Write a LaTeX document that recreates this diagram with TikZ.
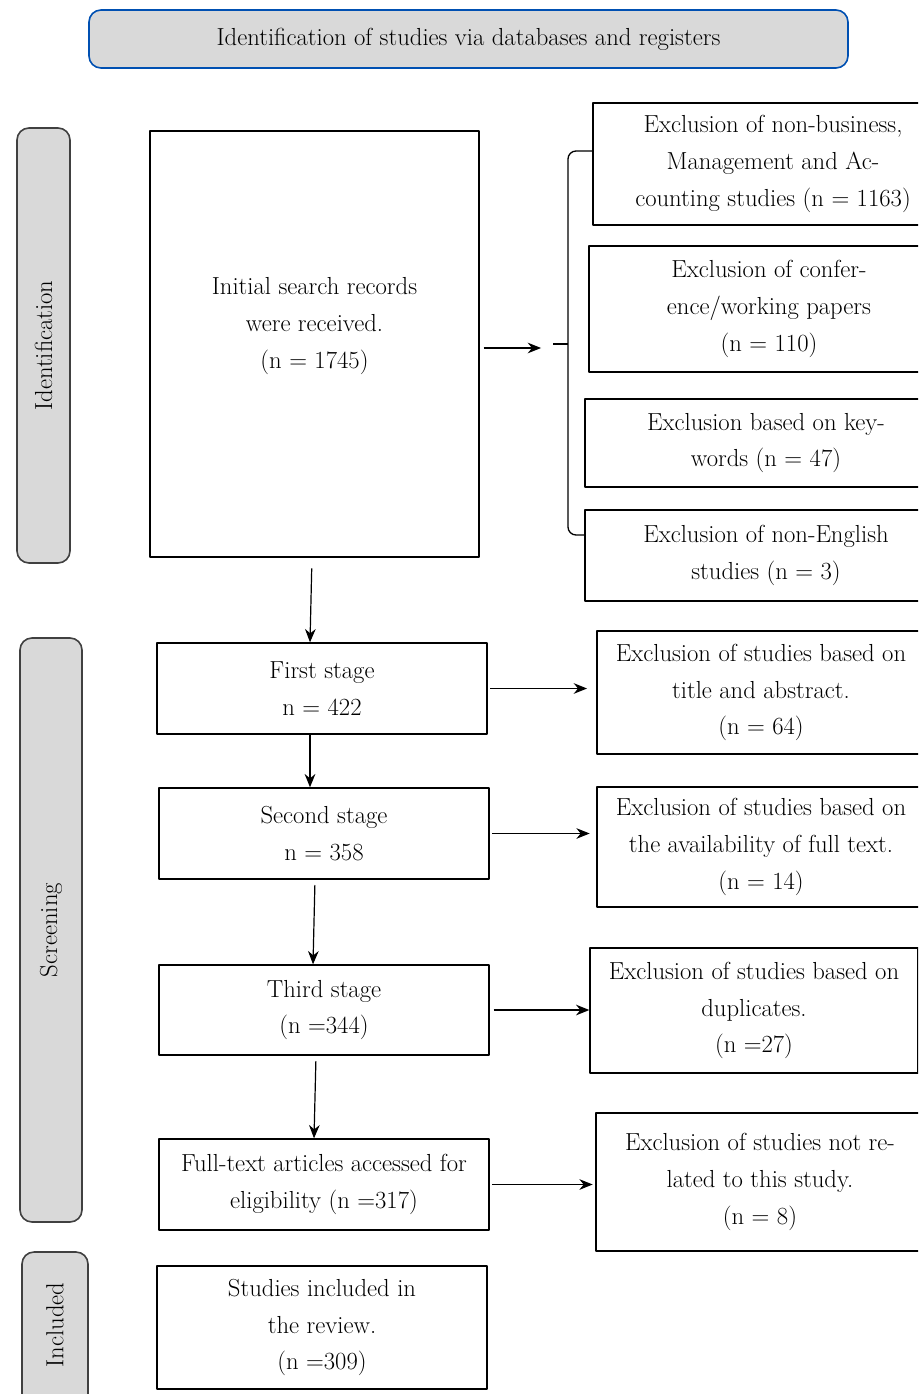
\documentclass[tikz,border=0pt]{standalone}
\usetikzlibrary{arrows.meta}
\begin{document}
\begin{tikzpicture}[x=0.75pt,y=-0.75pt,line join=round,>={Stealth[length=10pt,width=8pt]},
  font=\fontsize{18.5pt}{27.5pt}\selectfont,
  box/.style={draw,line width=1pt,align=center,inner sep=0pt},
  phase/.style={draw=black!75,line width=1.2pt,fill=black!15,rounded corners=9pt,inner sep=0pt},
  arr/.style={->,line width=0.9pt}]
\clip (0,0) rectangle (918,1394);
% header and phase labels
\node[phase,draw=blue!55!cyan!70!black,minimum width=759*0.75pt,minimum height=58*0.75pt] (head) at (468.5,39) {Identification of studies via databases and registers};
\node[phase,minimum width=53*0.75pt,minimum height=435*0.75pt] (idlab) at (43.5,345.5) {};
\node[rotate=90] (idtext) at (idlab) {Identification};
\node[phase,minimum width=62*0.75pt,minimum height=584*0.75pt] (scrlab) at (51,930) {};
\node[rotate=90] (scrtext) at (scrlab) {Screening};
\node[phase,minimum width=66*0.75pt,minimum height=160*0.75pt] (inclab) at (55,1332) {};
\node[rotate=90] (inctext) at (55,1325) {Included};
% left column
\node[box,minimum width=329*0.75pt,minimum height=426*0.75pt] (init) at (314.5,344) {};
\node[align=center] (inittext) at (314.5,326) {Initial search records\\ were received.\\(n = 1745)};
\node[box,minimum width=330*0.75pt,minimum height=91*0.75pt] (stage1) at (322,688.5) {First stage\\n = 422};
\node[box,minimum width=330*0.75pt,minimum height=91*0.75pt] (stage2) at (324,833.5) {Second stage\\n = 358};
\node[box,minimum width=330*0.75pt,minimum height=90*0.75pt] (stage3) at (324,1010) {Third stage\\(n =344)};
\node[box,minimum width=330*0.75pt,minimum height=91*0.75pt] (full) at (324,1184.5) {Full-text articles accessed for\\eligibility (n =317)};
\node[box,minimum width=330*0.75pt,minimum height=123*0.75pt] (incl) at (322,1327.5) {Studies included in\\the review.\\(n =309)};
% right column
\node[box,minimum width=360*0.75pt,minimum height=122*0.75pt] (excl1) at (773,164) {Exclusion of non-business,\\Management and Ac-\\counting studies (n = 1163)};
\node[box,minimum width=360*0.75pt,minimum height=126*0.75pt] (excl2) at (769,309) {Exclusion of confer-\\ence/working papers\\(n = 110)};
\node[box,minimum width=362*0.75pt,minimum height=88*0.75pt] (excl3) at (766,443) {Exclusion based on key-\\words (n = 47)};
\node[box,minimum width=362*0.75pt,minimum height=91*0.75pt] (excl4) at (766,555.5) {Exclusion of non-English\\studies (n = 3)};
\node[box,minimum width=328*0.75pt,minimum height=123*0.75pt] (scr1) at (761,692.5) {Exclusion of studies based on\\title and abstract.\\(n = 64)};
\node[box,minimum width=328*0.75pt,minimum height=120*0.75pt] (scr2) at (761,847) {Exclusion of studies based on\\the availability of full text.\\(n = 14)};
\node[box,minimum width=328*0.75pt,minimum height=125*0.75pt] (scr3) at (754,1010.5) {Exclusion of studies based on\\duplicates.\\(n =27)};
\node[box,minimum width=328*0.75pt,minimum height=138*0.75pt] (scr4) at (760,1182) {Exclusion of studies not re-\\lated to this study.\\(n = 8)};
% brace
\coordinate (brace) at (541,348);
\draw[line width=1pt,rounded corners=6pt] (excl1.west |- 0,151) -- (568,151) -- (568,535) -- (excl4.west |- 0,535);
\draw[line width=1pt] (553,344) -- (568,344);
\draw[arr,shorten <=3pt] (init.east |- brace) -- (brace);
% arrows
\draw[arr,shorten <=8pt] ([xshift=-1.9pt]init.south) -- ([xshift=-9pt]stage1.north);
\draw[arr] ([xshift=-9pt]stage1.south) -- ([xshift=-10.5pt]stage2.north);
\draw[arr,shorten <=4pt] ([xshift=-6.75pt]stage2.south) -- ([xshift=-8.25pt]stage3.north);
\draw[arr,shorten <=4pt] ([xshift=-6pt]stage3.south) -- ([xshift=-7.5pt]full.north);
\draw[arr,shorten <=2pt,shorten >=7pt] (stage1.east) -- (scr1.west |- stage1.east);
\draw[arr,shorten <=2pt,shorten >=5pt] (stage2.east) -- (scr2.west |- stage2.east);
\draw[arr,shorten <=3pt] (stage3.east) -- (scr3.west |- stage3.east);
\draw[arr,shorten <=2pt,shorten >=2pt] (full.east) -- (scr4.west |- full.east);
\end{tikzpicture}
\end{document}
